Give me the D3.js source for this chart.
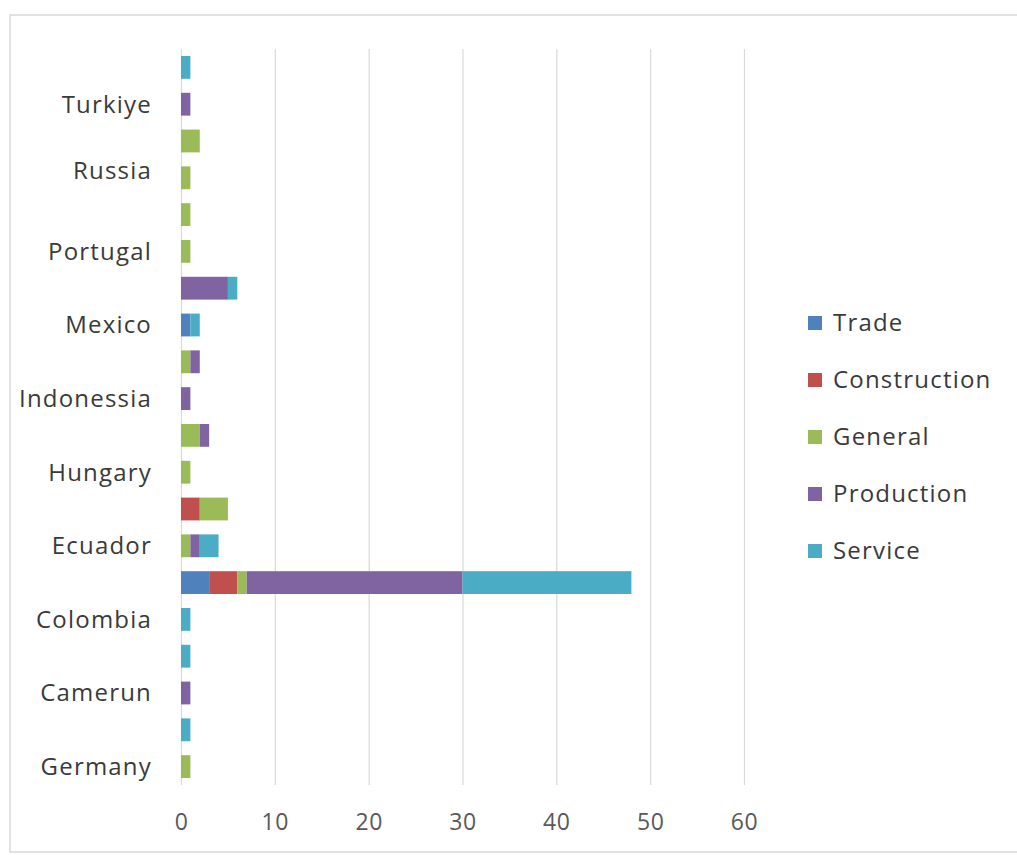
<!DOCTYPE html>
<html>
<head>
<meta charset="utf-8">
<script src="https://cdn.jsdelivr.net/npm/d3@7"></script>
<style>
  body { margin: 0; background: #fff; }
  text { font-family: "Open Sans", "DejaVu Sans", sans-serif; }
</style>
</head>
<body>
<svg id="chart" width="1017" height="855"></svg>
<script>
// categories from bottom to top, only every other one is labelled
const categories = ["Germany", "", "Camerun", "", "Colombia", "", "Ecuador", "", "Hungary", "",
                    "Indonessia", "", "Mexico", "", "Portugal", "", "Russia", "", "Turkiye", ""]
const series = ["Trade", "Construction", "General", "Production", "Service"]

const trade        = [0, 0, 0, 0, 0, 3, 0, 0, 0, 0, 0, 0, 1, 0, 0, 0, 0, 0, 0, 0]
const construction = [0, 0, 0, 0, 0, 3, 0, 2, 0, 0, 0, 0, 0, 0, 0, 0, 0, 0, 0, 0]
const general      = [1, 0, 0, 0, 0, 1, 1, 3, 1, 2, 0, 1, 0, 0, 1, 1, 1, 2, 0, 0]
const production   = [0, 0, 1, 0, 0, 23, 1, 0, 0, 1, 1, 1, 0, 5, 0, 0, 0, 0, 1, 0]
const service      = [0, 1, 0, 1, 1, 18, 2, 0, 0, 0, 0, 0, 1, 1, 0, 0, 0, 0, 0, 1]

const xTicks = [0, 10, 20, 30, 40, 50, 60]
const colors = ["#4f81bd", "#c0504d", "#9bbb59", "#8064a2", "#4bacc6"]

let svg = d3.select("#chart")

// outer frame
svg.append("rect")
  .attr("x", 10).attr("y", 15)
  .attr("width", 1030).attr("height", 837)
  .attr("fill", "none")
  .attr("stroke", "#d9d9d9")
  .attr("stroke-width", 1.5)

let rows = categories.map((c, i) => ({
  Trade: trade[i], Construction: construction[i], General: general[i],
  Production: production[i], Service: service[i], idx: i
}))

let x = d3.scaleLinear().domain([0, 60]).range([181, 744])
let y = d3.scaleBand()
  .domain(d3.range(categories.length))
  .range([785, 49])
  .paddingInner(0.38)
  .paddingOuter(0.19)

// vertical gridlines
svg.append("g")
  .attr("transform", "translate(0,49)")
  .call(d3.axisBottom(x).tickValues(xTicks).tickSize(736).tickFormat(""))
  .call(g => g.select(".domain").remove())
  .call(g => g.selectAll("line").attr("stroke", "#d9d9d9").attr("stroke-width", 1.2))

// x axis labels
svg.append("g")
  .attr("transform", "translate(0,785)")
  .call(d3.axisBottom(x).tickValues(xTicks).tickSize(0).tickPadding(29))
  .call(g => g.select(".domain").remove())
  .call(g => g.selectAll("text")
    .attr("fill", "#595959")
    .style("font-size", "23px")
    .style("letter-spacing", "0.6px"))

let stack = d3.stack().keys(series)(rows)

svg.append("g")
  .selectAll("g")
  .data(stack)
  .enter()
  .append("g")
    .attr("fill", (d, i) => colors[i])
  .selectAll("rect")
  .data(d => d.filter(p => p[1] > p[0]))
  .enter()
  .append("rect")
    .attr("x", d => x(d[0]))
    .attr("width", d => x(d[1]) - x(d[0]))
    .attr("y", d => y(d.data.idx))
    .attr("height", y.bandwidth())

// category labels
svg.append("g")
  .selectAll("text")
  .data(categories.map((c, i) => ({ c: c, i: i })).filter(d => d.c != ""))
  .enter()
  .append("text")
    .attr("x", 152)
    .attr("y", d => y(d.i) + y.bandwidth() / 2)
    .attr("dy", d => d.c == "Russia" ? "0.05em" : "0.35em")
    .attr("text-anchor", "end")
    .attr("fill", "#3a3a3a")
    .style("font-size", "24px")
    .style("letter-spacing", "1.2px")
    .text(d => d.c)

// legend
let legend = svg.append("g")
  .attr("transform", "translate(808,323)")

let item = legend.selectAll("g")
  .data(series)
  .enter()
  .append("g")
    .attr("transform", (d, i) => "translate(0," + (i * 57) + ")")

item.append("rect")
  .attr("x", 0).attr("y", -7)
  .attr("width", 14).attr("height", 14)
  .attr("fill", (d, i) => colors[i])

item.append("text")
  .attr("x", 25)
  .attr("dy", "0.35em")
  .attr("fill", "#3a3a3a")
  .style("font-size", "24px")
  .style("letter-spacing", "1.2px")
  .text(d => d)
</script>
</body>
</html>
